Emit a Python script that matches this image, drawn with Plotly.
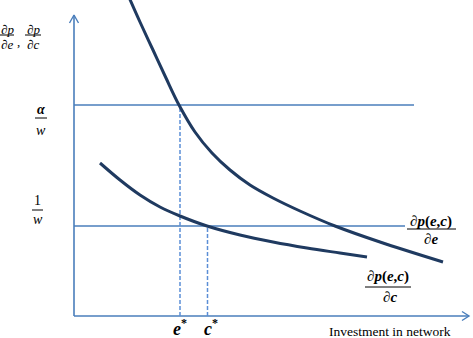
import plotly.graph_objects as go

# ---- data (diagram units: x = investment in network, y = marginal value) ----
e_curve_x = [54, 66, 79, 92, 105, 121, 138, 156, 176, 199, 226, 261, 306, 369]
e_curve_y = [321, 294, 266, 238, 211, 184, 163, 146, 131, 118, 105, 90, 74, 54]
c_curve_x = [26, 46, 66, 86, 106, 133, 166, 199, 233, 266, 293]
c_curve_y = [153, 136, 121, 109, 100, 90, 81, 74, 68, 63, 59]

alpha_w_level = 211
one_w_level = 90
alpha_w_end = 340
one_w_end = 331
e_star = 106
c_star = 133.5

x_axis_end = 395
y_axis_end = 301

AXIS_BLUE = "#4a7ebb"
DASH_BLUE = "#5b8ed6"
NAVY = "#1f3a60"
SERIF = "Liberation Serif, Times New Roman, serif"

fig = go.Figure()

# axes
fig.add_trace(go.Scatter(x=[0, 0], y=[0, y_axis_end], mode="lines",
                         line=dict(color=AXIS_BLUE, width=1.6), hoverinfo="skip"))
fig.add_trace(go.Scatter(x=[0, x_axis_end], y=[0, 0], mode="lines",
                         line=dict(color=AXIS_BLUE, width=1.6), hoverinfo="skip"))
# arrowheads (open chevrons)
fig.add_trace(go.Scatter(x=[-4.5, 0, 4.5], y=[y_axis_end - 8, y_axis_end, y_axis_end - 8],
                         mode="lines", line=dict(color=AXIS_BLUE, width=1.4), hoverinfo="skip"))
fig.add_trace(go.Scatter(x=[x_axis_end - 7, x_axis_end, x_axis_end - 7], y=[4.5, 0, -4.5],
                         mode="lines", line=dict(color=AXIS_BLUE, width=1.4), hoverinfo="skip"))

# horizontal levels
fig.add_trace(go.Scatter(x=[0, alpha_w_end], y=[alpha_w_level, alpha_w_level], mode="lines",
                         line=dict(color=AXIS_BLUE, width=1.4), hoverinfo="skip"))
fig.add_trace(go.Scatter(x=[0, one_w_end], y=[one_w_level, one_w_level], mode="lines",
                         line=dict(color=AXIS_BLUE, width=1.4), hoverinfo="skip"))

# dashed drop lines
fig.add_trace(go.Scatter(x=[e_star, e_star], y=[0, alpha_w_level], mode="lines",
                         line=dict(color=DASH_BLUE, width=1.5, dash="4px,2px"), hoverinfo="skip"))
fig.add_trace(go.Scatter(x=[c_star, c_star], y=[0, one_w_level], mode="lines",
                         line=dict(color=DASH_BLUE, width=1.5, dash="4px,2px"), hoverinfo="skip"))

# curves
fig.add_trace(go.Scatter(x=e_curve_x, y=e_curve_y, mode="lines",
                         line=dict(color=NAVY, width=3, shape="spline", smoothing=1.0),
                         hoverinfo="skip"))
fig.add_trace(go.Scatter(x=c_curve_x, y=c_curve_y, mode="lines",
                         line=dict(color=NAVY, width=3, shape="spline", smoothing=1.0),
                         hoverinfo="skip"))

annotations = []
shapes = []


def txt(x, y, s, size, **kw):
    annotations.append(dict(x=x, y=y, xref="x", yref="y", text=s, showarrow=False,
                            xanchor=kw.get("xanchor", "center"), yanchor="middle",
                            font=dict(family=SERIF, size=size, color="black")))


def bar(x0, x1, y):
    shapes.append(dict(type="line", xref="x", yref="y", x0=x0, x1=x1, y0=y, y1=y,
                       line=dict(color="black", width=1)))


# top-left axis label  dp/de , dp/dc
txt(-67, 287, "<i>∂p</i>", 13)
bar(-74, -60, 281)
txt(-67, 272, "<i>∂e</i>", 13)
txt(-56, 275, ",", 13)
txt(-41, 287, "<i>∂p</i>", 13)
bar(-49, -33, 281)
txt(-41, 272, "<i>∂c</i>", 13)

# alpha / w
txt(-33, 207, "<b><i>α</i></b>", 14)
bar(-39, -27, 198)
txt(-33, 186, "<i>w</i>", 14)

# 1 / w
txt(-37, 116, "1", 14)
bar(-42, -31, 106)
txt(-36, 97, "<i>w</i>", 14)

# dp(e,c)/de
txt(357, 95, "<b><i>∂p</i>(<i>e</i>,<i>c</i>)</b>", 15)
bar(333, 382, 87)
txt(357, 77, "<b><i>∂e</i></b>", 15)

# dp(e,c)/dc
txt(314, 40, "<b><i>∂p</i>(<i>e</i>,<i>c</i>)</b>", 15)
bar(291, 337, 29)
txt(316, 19, "<b><i>∂c</i></b>", 15)

# e*, c*
txt(103, -13, "<b><i>e</i></b>", 18)
txt(110, -7, "<b>*</b>", 12)
txt(134, -13, "<b><i>c</i></b>", 18)
txt(141, -7, "<b>*</b>", 12)

# x-axis title
txt(316, -15, "Investment in network", 13.5)

fig.update_layout(
    width=473, height=338, autosize=False,
    margin=dict(l=0, r=0, t=0, b=0),
    paper_bgcolor="white", plot_bgcolor="white",
    showlegend=False,
    xaxis=dict(range=[-74, 399], visible=False, fixedrange=True),
    yaxis=dict(range=[-22, 316], visible=False, fixedrange=True),
    annotations=annotations, shapes=shapes,
)

fig.write_html("out.html",
               config={"displayModeBar": False, "staticPlot": True},
               post_script="document.body.style.margin='0';document.body.style.overflow='hidden';")
